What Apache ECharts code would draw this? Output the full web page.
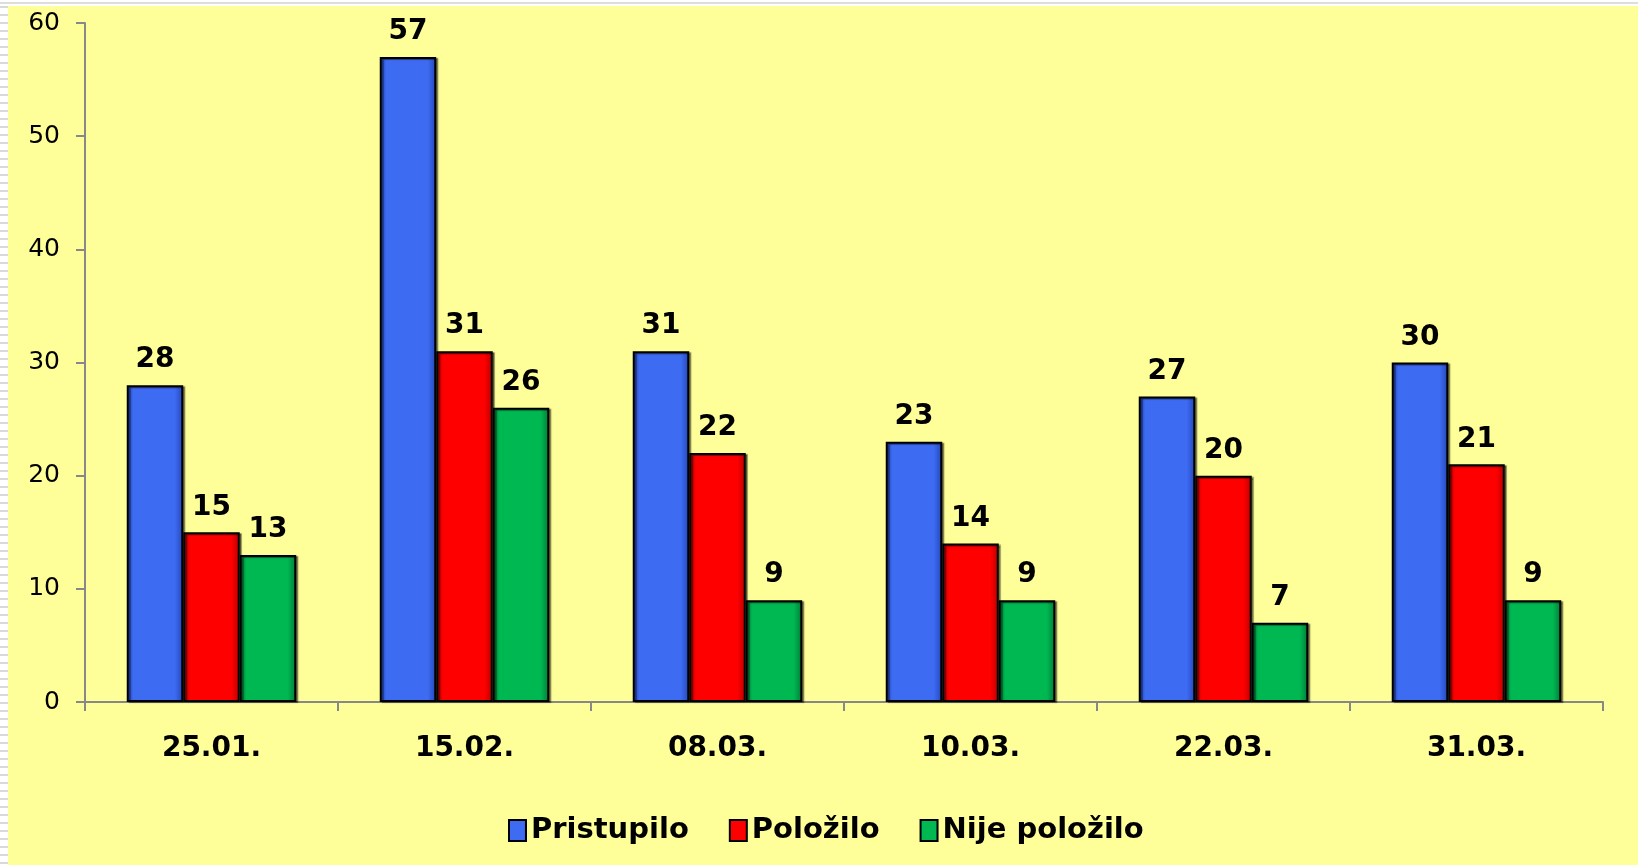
<!DOCTYPE html>
<html>
<head>
<meta charset="utf-8">
<script src="https://cdn.jsdelivr.net/npm/echarts@6/dist/echarts.min.js"></script>
<style>
  html, body { margin: 0; padding: 0; width: 1638px; height: 865px; overflow: hidden; background: #fff; }
  #strip { position: absolute; left: 0; top: 0; width: 8px; height: 865px;
    background: repeating-linear-gradient(to bottom, #fff 0px, #fff 6px, #d8d8d8 6px, #d8d8d8 8px); }
  #topline { position: absolute; left: 0; top: 2px; width: 1638px; height: 2px; background: #ddd; }
  #chart { position: absolute; left: 8px; top: 6px; width: 1630px; height: 859px; background: #FFFF99; }
</style>
</head>
<body>
<div id="strip"></div>
<div id="topline"></div>
<div id="chart"></div>
<script>
// exam dates and counts
const dates = ['25.01.', '15.02.', '08.03.', '10.03.', '22.03.', '31.03.'];
const pristupilo = [28, 57, 31, 23, 27, 30];
const polozilo = [15, 31, 22, 14, 20, 21];
const nijePolozilo = [13, 26, 9, 9, 7, 9];

const fontFamily = '"DejaVu Sans", Verdana, sans-serif';

// bevel-ish fill: darker at the edges, base colour in the middle
function barFill(edge, base) {
    return new echarts.graphic.LinearGradient(0, 0, 1, 0, [
        { offset: 0, color: edge },
        { offset: 0.12, color: base },
        { offset: 0.85, color: base },
        { offset: 1, color: edge }
    ]);
}

function makeSeries(name, data, edge, base) {
    return {
        name: name,
        type: 'bar',
        data: data,
        barGap: '0%',
        barCategoryGap: '33%',
        itemStyle: {
            color: barFill(edge, base),
            borderColor: '#000',
            borderWidth: 2,
            shadowColor: 'rgba(0,0,0,0.45)',
            shadowOffsetX: 2,
            shadowOffsetY: 1,
            shadowBlur: 1
        },
        label: {
            show: true,
            position: 'top',
            distance: 11,
            color: '#000',
            fontFamily: fontFamily,
            fontWeight: 'bold',
            fontSize: 28
        }
    };
}

var myChart = echarts.init(document.getElementById('chart'));

var option = {
    animation: false,
    grid: { left: 77, top: 17, right: 35, bottom: 163 },
    legend: {
        left: 495,
        top: 805,
        itemWidth: 17,
        itemHeight: 21,
        itemGap: 40,
        icon: 'rect',
        textStyle: { fontFamily: fontFamily, fontWeight: 'bold', fontSize: 29, color: '#000' },
        data: ['Pristupilo', 'Položilo', 'Nije položilo']
    },
    xAxis: {
        type: 'category',
        data: dates,
        axisLine: { lineStyle: { color: '#888', width: 2 } },
        axisTick: { show: true, length: 9, lineStyle: { color: '#888', width: 2 } },
        axisLabel: { margin: 33, color: '#000', fontFamily: fontFamily, fontWeight: 'bold', fontSize: 28 }
    },
    yAxis: {
        type: 'value',
        min: 0,
        max: 60,
        interval: 10,
        splitLine: { show: false },
        axisLine: { show: true, lineStyle: { color: '#888', width: 2 } },
        axisTick: { show: true, length: 9, lineStyle: { color: '#888', width: 2 } },
        axisLabel: { margin: 25, color: '#000', fontFamily: fontFamily, fontSize: 25 }
    },
    series: [
        makeSeries('Pristupilo', pristupilo, '#2446B8', '#3D6BF2'),
        makeSeries('Položilo', polozilo, '#B80000', '#FF0000'),
        makeSeries('Nije položilo', nijePolozilo, '#007A36', '#00B852')
    ]
};

myChart.setOption(option);
</script>
</body>
</html>
